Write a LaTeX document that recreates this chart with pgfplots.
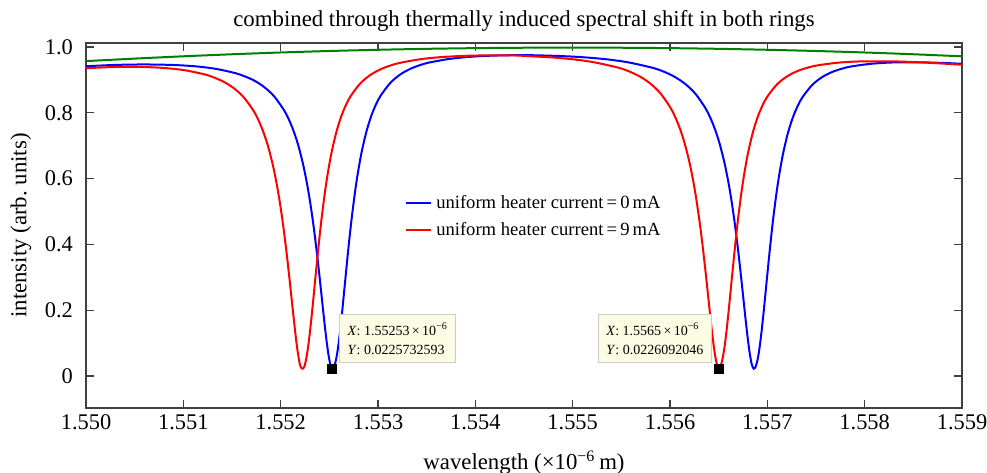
\documentclass[border=0pt]{standalone}
\usepackage{fontspec}
\setmainfont{Liberation Serif}
\usepackage{pgfplots}
\pgfplotsset{compat=1.18}
\usetikzlibrary{calc}

\definecolor{mblue}{rgb}{0,0,1}
\definecolor{mred}{rgb}{1,0,0}
\definecolor{mgreen}{rgb}{0,0.5,0}
\definecolor{tipfill}{RGB}{252,252,228}
\definecolor{tipdraw}{RGB}{205,205,195}

\begin{document}
\begin{tikzpicture}
% x values: wavelength offset from 1.550 um, in nm (tick labels give the wavelength in um)
\begin{axis}[
  scale only axis,
  width=438pt, height=182.5pt,
  xmin=0, xmax=9, ymin=-0.097, ymax=1.012,
  xtick={0,1,2,3,4,5,6,7,8,9},
  xticklabels={1.550,1.551,1.552,1.553,1.554,1.555,1.556,1.557,1.558,1.559},
  ytick={0,0.2,0.4,0.6,0.8,1.0},
  yticklabels={0,0.2,0.4,0.6,0.8,1.0},
  tick align=inside,
  major tick length=4pt,
  axis line style={black!75, line width=0.6pt},
  every tick/.style={black!75, line width=0.6pt},
  ticklabel style={font=\fontsize{11.2}{13}\selectfont},
  yticklabel style={xshift=-3pt},
  label style={font=\fontsize{11.4}{13}\selectfont},
  xlabel={wavelength (×10\textsuperscript{−6}\,m)},
  xlabel style={yshift=-3.5pt},
  ylabel={intensity (arb.\ units)},
  title={combined through thermally induced spectral shift in both rings},
  title style={font=\fontsize{11.4}{13}\selectfont, yshift=-3.5pt},
  legend style={at={(rel axis cs:0.364,0.595)}, anchor=north west,
    draw=none, fill=none, inner sep=0pt,
    font=\fontsize{9.3}{11}\selectfont, row sep=1.5pt},
  legend cell align=left,
  legend image code/.code={\draw[#1] (0pt,0pt) -- (12.5pt,0pt);},
  every axis plot/.append style={line width=1pt},
]

% envelope
\addplot[mgreen, smooth, forget plot] coordinates {
(0,0.957) (0.5,0.9646) (1,0.9716) (1.5,0.9778) (2,0.9832) (2.5,0.9877)
(3,0.9914) (3.5,0.9943) (4,0.9964) (4.5,0.9976) (5,0.998) (5.5,0.9976)
(6,0.9964) (6.5,0.9943) (7,0.9914) (7.5,0.9877) (8,0.9832) (8.5,0.9778) (9,0.9716)
};

% 0 mA
\addplot[mblue, smooth] coordinates {
(0,0.9414) (0.3,0.9454) (0.6,0.9468) (0.9,0.9452) (1.13,0.9410) (1.33,0.9337)
(1.53,0.9208) (1.63,0.9108) (1.73,0.8975) (1.83,0.8783) (1.93,0.8509) (2.03,0.8101)
(2.08,0.7822) (2.13,0.7468) (2.18,0.7019) (2.23,0.6439) (2.27,0.5856) (2.30,0.5336)
(2.33,0.4734) (2.35,0.4283) (2.37,0.3796) (2.39,0.3276) (2.41,0.2727) (2.43,0.2169)
(2.45,0.1619) (2.47,0.1105) (2.49,0.0670) (2.51,0.0355) (2.53,0.0226)
(2.55,0.0294) (2.57,0.0514) (2.59,0.0875) (2.61,0.1350) (2.63,0.1905) (2.65,0.2505)
(2.67,0.3113) (2.69,0.3710) (2.71,0.4277) (2.73,0.4803) (2.76,0.5510) (2.79,0.6115)
(2.83,0.6779) (2.88,0.7418) (2.93,0.7898) (2.98,0.8259) (3.03,0.8533) (3.13,0.8919)
(3.23,0.9166) (3.33,0.9332) (3.43,0.9447) (3.53,0.9529) (3.73,0.9635) (3.93,0.9697)
(4.13,0.9731) (4.33,0.9747) (4.53,0.9751) (4.73,0.9738) (4.96,0.9713) (5.16,0.9676)
(5.36,0.9621) (5.56,0.9538) (5.76,0.9411) (5.86,0.9333) (5.96,0.9220) (6.06,0.9071)
(6.16,0.8867) (6.26,0.8582) (6.36,0.8161) (6.41,0.7875) (6.46,0.7515) (6.51,0.7059)
(6.56,0.6474) (6.60,0.5887) (6.63,0.5362) (6.66,0.4756) (6.68,0.4303) (6.70,0.3814)
(6.72,0.3291) (6.74,0.2741) (6.76,0.2180) (6.78,0.1627) (6.80,0.1111) (6.82,0.0673)
(6.84,0.0356) (6.86,0.0224)
(6.88,0.0288) (6.90,0.0505) (6.92,0.0864) (6.94,0.1337) (6.96,0.1889) (6.98,0.2486)
(7.00,0.3092) (7.02,0.3686) (7.04,0.4251) (7.06,0.4777) (7.09,0.5478) (7.12,0.6079)
(7.16,0.6738) (7.21,0.7370) (7.26,0.7841) (7.31,0.8197) (7.36,0.8469) (7.46,0.8843)
(7.56,0.9078) (7.66,0.9232) (7.76,0.9334) (7.86,0.9406) (8.06,0.9487) (8.26,0.9526)
(8.46,0.9535) (8.66,0.9528) (8.86,0.9508) (9.0,0.9488)
};
\addlegendentry{uniform heater current\,=\,0\,mA}

% 9 mA
\addplot[mred, smooth] coordinates {
(0,0.9354) (0.3,0.9392) (0.6,0.9390) (0.82,0.9357) (1.02,0.9290) (1.22,0.9165)
(1.32,0.9067) (1.42,0.8933) (1.52,0.8744) (1.62,0.8473) (1.72,0.8067) (1.77,0.7788)
(1.82,0.7434) (1.87,0.6986) (1.92,0.6407) (1.96,0.5823) (1.99,0.5303) (2.02,0.4701)
(2.04,0.4251) (2.06,0.3764) (2.08,0.3244) (2.10,0.2697) (2.12,0.2138) (2.14,0.1589)
(2.16,0.1075) (2.18,0.0640) (2.20,0.0325) (2.22,0.0226)
(2.24,0.0265) (2.26,0.0485) (2.28,0.0846) (2.30,0.1322) (2.32,0.1877) (2.34,0.2476)
(2.36,0.3085) (2.38,0.3682) (2.40,0.4250) (2.42,0.4778) (2.45,0.5482) (2.48,0.6087)
(2.52,0.6752) (2.57,0.7391) (2.62,0.7872) (2.67,0.8232) (2.72,0.8511) (2.82,0.8899)
(2.92,0.9146) (3.02,0.9313) (3.12,0.9429) (3.22,0.9513) (3.42,0.9621) (3.62,0.9685)
(3.82,0.9721) (4.02,0.9740) (4.22,0.9744) (4.42,0.9740) (4.60,0.9712) (4.80,0.9679)
(5.00,0.9626) (5.20,0.9545) (5.40,0.9420) (5.50,0.9344) (5.60,0.9232) (5.70,0.9086)
(5.80,0.8882) (5.90,0.8597) (6.00,0.8177) (6.05,0.7892) (6.10,0.7532) (6.15,0.7077)
(6.20,0.6492) (6.24,0.5903) (6.27,0.5379) (6.30,0.4774) (6.32,0.4321) (6.34,0.3832)
(6.36,0.3309) (6.38,0.2759) (6.40,0.2198) (6.42,0.1646) (6.44,0.1130) (6.46,0.0692)
(6.48,0.0375) (6.50,0.0226)
(6.52,0.0309) (6.54,0.0526) (6.56,0.0885) (6.58,0.1358) (6.60,0.1911) (6.62,0.2507)
(6.64,0.3113) (6.66,0.3708) (6.68,0.4273) (6.70,0.4799) (6.73,0.5497) (6.76,0.6099)
(6.80,0.6758) (6.85,0.7389) (6.90,0.7864) (6.95,0.8221) (7.00,0.8492) (7.10,0.8866)
(7.20,0.9101) (7.30,0.9256) (7.40,0.9359) (7.50,0.9432) (7.70,0.9515) (7.90,0.9555)
(8.10,0.9565) (8.30,0.9561) (8.50,0.9542) (8.75,0.9504) (9.0,0.9460)
};
\addlegendentry{uniform heater current\,=\,9\,mA}

% data tips
\addplot[only marks, mark=square*, mark size=2pt, black, forget plot]
  coordinates {(2.53,0.0225732593) (6.5,0.0226092046)};

\node[anchor=south west, xshift=3.5pt, yshift=3pt, fill=tipfill, draw=tipdraw,
  line width=0.4pt, align=left, inner xsep=4pt, inner ysep=4pt,
  font=\fontsize{7}{9.5}\selectfont]
  at (axis cs:2.53,0.0225732593)
  {\textit{X}: 1.55253\,×\,10\textsuperscript{−6}\\\textit{Y}: 0.0225732593};

\node[anchor=south east, xshift=-3.5pt, yshift=3pt, fill=tipfill, draw=tipdraw,
  line width=0.4pt, align=left, inner xsep=4pt, inner ysep=4pt,
  font=\fontsize{7}{9.5}\selectfont]
  at (axis cs:6.5,0.0226092046)
  {\textit{X}: 1.5565\,×\,10\textsuperscript{−6}\\\textit{Y}: 0.0226092046};
\end{axis}
\pgfresetboundingbox
\path[use as bounding box] ($(current axis.south west)+(-43pt,-32pt)$)
  rectangle ($(current axis.north east)+(12.5pt,21.5pt)$);
\end{tikzpicture}
\end{document}
